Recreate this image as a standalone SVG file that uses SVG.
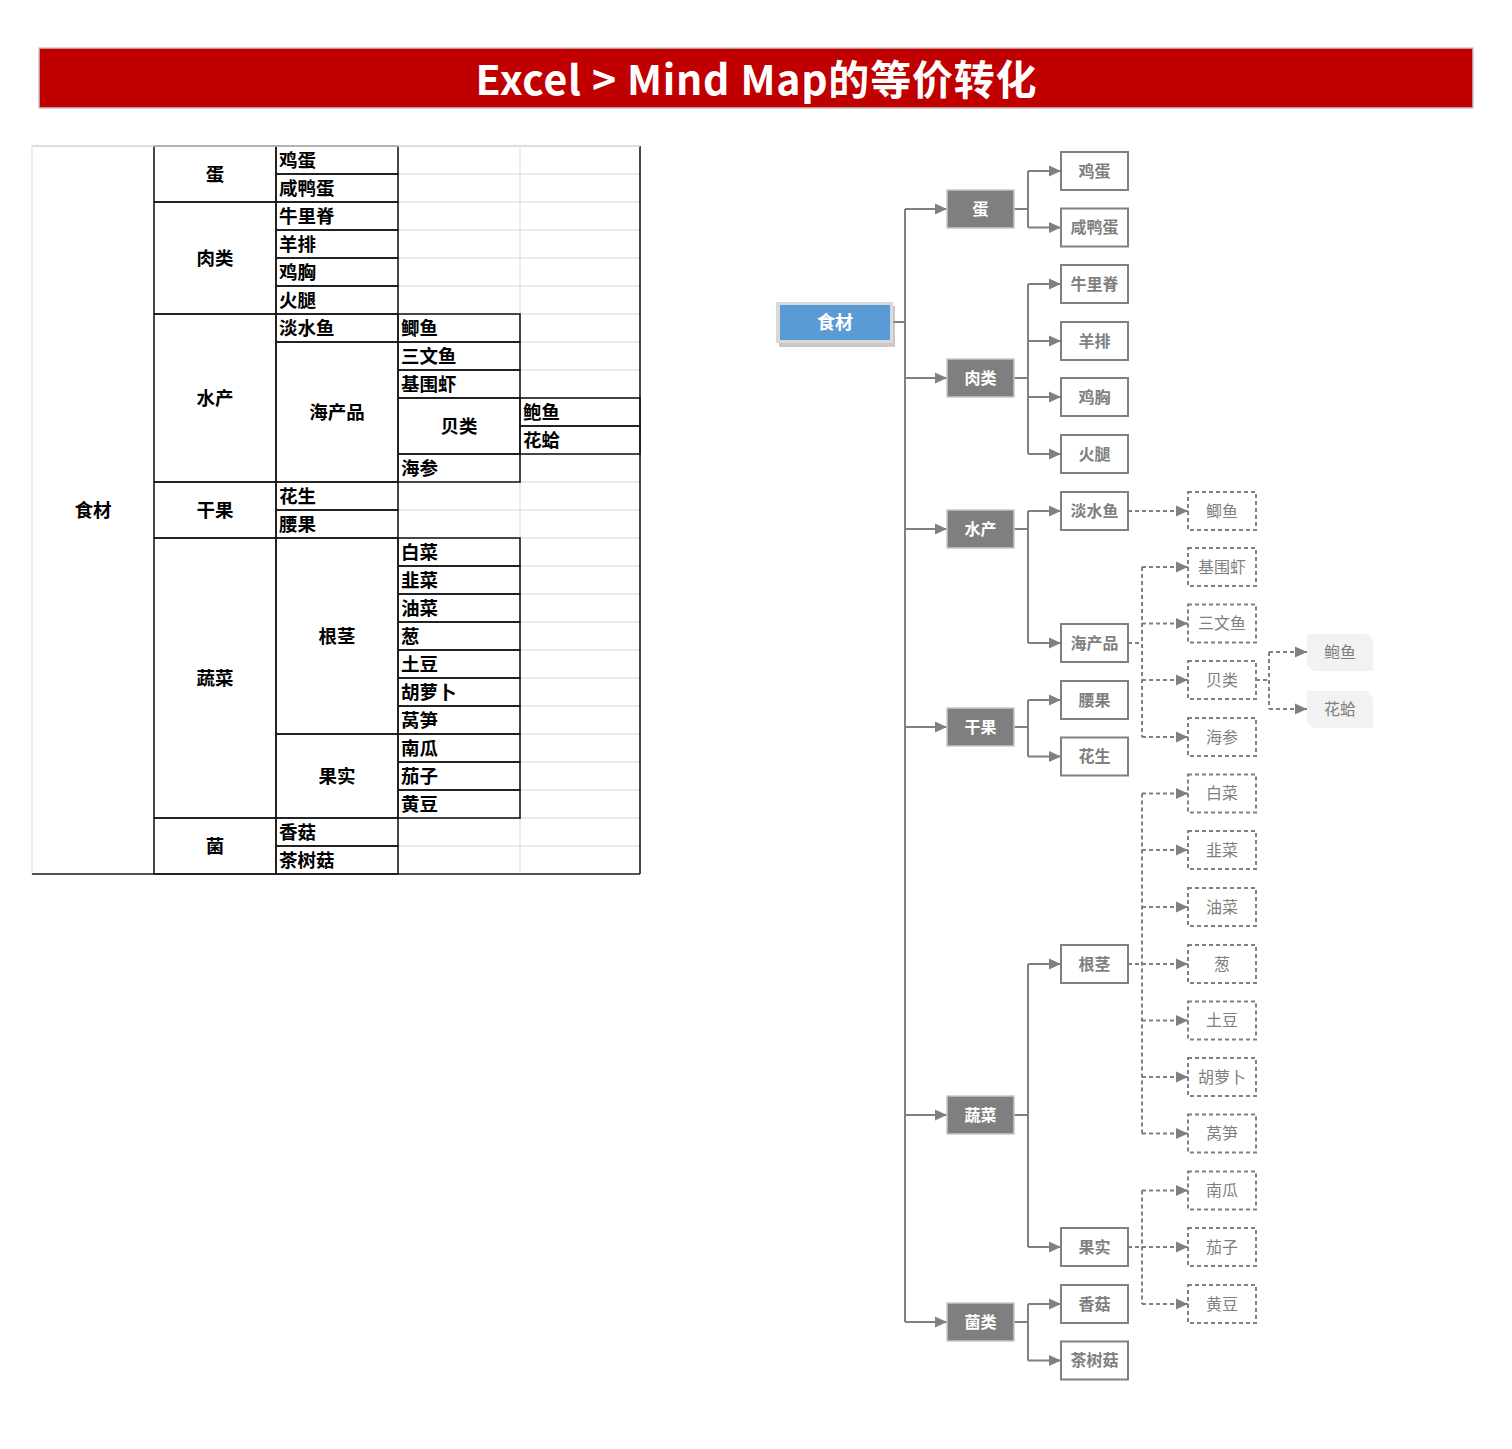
<svg xmlns="http://www.w3.org/2000/svg" width="1512" height="1449" viewBox="0 0 1512 1449">
<style>
.tt{font-family:"Noto Sans CJK SC","Liberation Sans",sans-serif;font-weight:bold;font-size:18.5px;fill:#000}
.tc{text-anchor:middle}
.cell{fill:none;stroke:#1a1a1a;stroke-width:1.6}
.grid{stroke:#d9d9d9;stroke-width:1;fill:none}
.l1 rect{fill:#7f7f7f;stroke:#c8c8c8;stroke-width:1.5}
.l1 text{font-family:"Noto Sans CJK SC","Liberation Sans",sans-serif;font-weight:bold;font-size:16px;fill:#fff;text-anchor:middle}
.l2 rect{fill:#fff;stroke:#808080;stroke-width:2}
.l2 text{font-family:"Noto Sans CJK SC","Liberation Sans",sans-serif;font-weight:bold;font-size:16px;fill:#7f7f7f;text-anchor:middle}
.l3 rect{fill:#fff;stroke:#808080;stroke-width:2;stroke-dasharray:4 3}
.l3 text{font-family:"Noto Sans CJK SC","Liberation Sans",sans-serif;font-size:16px;fill:#7f7f7f;text-anchor:middle}
.l4 path{fill:#f2f2f2}
.l4 text{font-family:"Noto Sans CJK SC","Liberation Sans",sans-serif;font-size:16px;fill:#7f7f7f;text-anchor:middle}
.s{fill:none;stroke:#808080;stroke-width:2}
.d{fill:none;stroke:#808080;stroke-width:2;stroke-dasharray:4 3}
</style>
<defs>
<marker id="ar" markerUnits="userSpaceOnUse" markerWidth="13" markerHeight="13" viewBox="0 0 13 13" refX="12" refY="6.5" orient="auto">
<path d="M0,1 L12,6.5 L0,12 Z" fill="#808080"/>
</marker>
</defs>
<rect width="1512" height="1449" fill="#fff"/>

<g id="title">
<rect x="39" y="48" width="1434" height="60" fill="#c00000" stroke="#c8c8c8" stroke-width="1.5"/>
<text x="756" y="95" text-anchor="middle" font-family="Noto Sans CJK SC,Liberation Sans,sans-serif" font-weight="bold" font-size="41" fill="#fff" textLength="561" lengthAdjust="spacing">Excel &gt; Mind Map的等价转化</text>
</g>

<g id="table">
<path class="grid" d="M32,146 H640 M32,146 V874 M520,146 V874
M398,174 H640 M398,202 H640 M398,230 H640 M398,258 H640 M398,286 H640
M520,314 H640 M520,342 H640 M520,370 H640 M520,398 H640 M520,482 H640
M398,510 H640 M520,538 H640 M520,566 H640 M520,594 H640 M520,622 H640 M520,650 H640
M520,678 H640 M520,706 H640 M520,734 H640 M520,762 H640 M520,790 H640 M398,818 H640 M398,846 H640"/>
<g class="cells">
<path class="cell" d="M32,874 H640 M640,146 V874"/>
<rect class="cell" x="154" y="146" width="122" height="56"/>
<rect class="cell" x="154" y="202" width="122" height="112"/>
<rect class="cell" x="154" y="314" width="122" height="168"/>
<rect class="cell" x="154" y="482" width="122" height="56"/>
<rect class="cell" x="154" y="538" width="122" height="280"/>
<rect class="cell" x="154" y="818" width="122" height="56"/>
<rect class="cell" x="276" y="146" width="122" height="28"/>
<rect class="cell" x="276" y="174" width="122" height="28"/>
<rect class="cell" x="276" y="202" width="122" height="28"/>
<rect class="cell" x="276" y="230" width="122" height="28"/>
<rect class="cell" x="276" y="258" width="122" height="28"/>
<rect class="cell" x="276" y="286" width="122" height="28"/>
<rect class="cell" x="276" y="314" width="122" height="28"/>
<rect class="cell" x="276" y="342" width="122" height="140"/>
<rect class="cell" x="276" y="482" width="122" height="28"/>
<rect class="cell" x="276" y="510" width="122" height="28"/>
<rect class="cell" x="276" y="538" width="122" height="196"/>
<rect class="cell" x="276" y="734" width="122" height="84"/>
<rect class="cell" x="276" y="818" width="122" height="28"/>
<rect class="cell" x="276" y="846" width="122" height="28"/>
<rect class="cell" x="398" y="314" width="122" height="28"/>
<rect class="cell" x="398" y="342" width="122" height="28"/>
<rect class="cell" x="398" y="370" width="122" height="28"/>
<rect class="cell" x="398" y="398" width="122" height="56"/>
<rect class="cell" x="398" y="454" width="122" height="28"/>
<rect class="cell" x="398" y="538" width="122" height="28"/>
<rect class="cell" x="398" y="566" width="122" height="28"/>
<rect class="cell" x="398" y="594" width="122" height="28"/>
<rect class="cell" x="398" y="622" width="122" height="28"/>
<rect class="cell" x="398" y="650" width="122" height="28"/>
<rect class="cell" x="398" y="678" width="122" height="28"/>
<rect class="cell" x="398" y="706" width="122" height="28"/>
<rect class="cell" x="398" y="734" width="122" height="28"/>
<rect class="cell" x="398" y="762" width="122" height="28"/>
<rect class="cell" x="398" y="790" width="122" height="28"/>
<rect class="cell" x="520" y="398" width="120" height="28"/>
<rect class="cell" x="520" y="426" width="120" height="28"/>
</g>
<line x1="32" y1="146" x2="640" y2="146" stroke="#d9d9d9" stroke-width="1.6"/>
<g class="tt">
<text class="tc" x="93" y="516.5">食材</text>
<text class="tc" x="215" y="180.5">蛋</text>
<text class="tc" x="215" y="264.5">肉类</text>
<text class="tc" x="215" y="404.5">水产</text>
<text class="tc" x="215" y="516.5">干果</text>
<text class="tc" x="215" y="684.5">蔬菜</text>
<text class="tc" x="215" y="852.5">菌</text>
<text x="279" y="166.5">鸡蛋</text>
<text x="279" y="194.5">咸鸭蛋</text>
<text x="279" y="222.5">牛里脊</text>
<text x="279" y="250.5">羊排</text>
<text x="279" y="278.5">鸡胸</text>
<text x="279" y="306.5">火腿</text>
<text x="279" y="334.5">淡水鱼</text>
<text class="tc" x="337" y="418.5">海产品</text>
<text x="279" y="502.5">花生</text>
<text x="279" y="530.5">腰果</text>
<text class="tc" x="337" y="642.5">根茎</text>
<text class="tc" x="337" y="782.5">果实</text>
<text x="279" y="838.5">香菇</text>
<text x="279" y="866.5">茶树菇</text>
<text x="401" y="334.5">鲫鱼</text>
<text x="401" y="362.5">三文鱼</text>
<text x="401" y="390.5">基围虾</text>
<text class="tc" x="459" y="432.5">贝类</text>
<text x="401" y="474.5">海参</text>
<text x="401" y="558.5">白菜</text>
<text x="401" y="586.5">韭菜</text>
<text x="401" y="614.5">油菜</text>
<text x="401" y="642.5">葱</text>
<text x="401" y="670.5">土豆</text>
<text x="401" y="698.5">胡萝卜</text>
<text x="401" y="726.5">莴笋</text>
<text x="401" y="754.5">南瓜</text>
<text x="401" y="782.5">茄子</text>
<text x="401" y="810.5">黄豆</text>
<text x="523" y="418.5">鲍鱼</text>
<text x="523" y="446.5">花蛤</text>
</g>
</g>

<g id="connectors">
<path class="s" d="M893,322 H905 M905,209 V1322"/>
<path class="s" marker-end="url(#ar)" d="M905,209 H947"/>
<path class="s" marker-end="url(#ar)" d="M905,378 H947"/>
<path class="s" marker-end="url(#ar)" d="M905,529 H947"/>
<path class="s" marker-end="url(#ar)" d="M905,727 H947"/>
<path class="s" marker-end="url(#ar)" d="M905,1115 H947"/>
<path class="s" marker-end="url(#ar)" d="M905,1322 H947"/>
<path class="s" d="M1014,209 H1028 M1028,171 V227.5"/>
<path class="s" marker-end="url(#ar)" d="M1028,171 H1061"/>
<path class="s" marker-end="url(#ar)" d="M1028,227.5 H1061"/>
<path class="s" d="M1014,378 H1028 M1028,284 V454"/>
<path class="s" marker-end="url(#ar)" d="M1028,284 H1061"/>
<path class="s" marker-end="url(#ar)" d="M1028,341 H1061"/>
<path class="s" marker-end="url(#ar)" d="M1028,397 H1061"/>
<path class="s" marker-end="url(#ar)" d="M1028,454 H1061"/>
<path class="s" d="M1014,529 H1028 M1028,511 V643"/>
<path class="s" marker-end="url(#ar)" d="M1028,511 H1061"/>
<path class="s" marker-end="url(#ar)" d="M1028,643 H1061"/>
<path class="s" d="M1014,727 H1028 M1028,700 V756.5"/>
<path class="s" marker-end="url(#ar)" d="M1028,700 H1061"/>
<path class="s" marker-end="url(#ar)" d="M1028,756.5 H1061"/>
<path class="s" d="M1014,1115 H1028 M1028,964 V1247"/>
<path class="s" marker-end="url(#ar)" d="M1028,964 H1061"/>
<path class="s" marker-end="url(#ar)" d="M1028,1247 H1061"/>
<path class="s" d="M1014,1322 H1028 M1028,1304 V1360.5"/>
<path class="s" marker-end="url(#ar)" d="M1028,1304 H1061"/>
<path class="s" marker-end="url(#ar)" d="M1028,1360.5 H1061"/>
<path class="d" marker-end="url(#ar)" d="M1128,511 H1188"/>
<path class="d" d="M1128,643 H1142 M1142,567 V737"/>
<path class="d" marker-end="url(#ar)" d="M1142,567 H1188"/>
<path class="d" marker-end="url(#ar)" d="M1142,623.5 H1188"/>
<path class="d" marker-end="url(#ar)" d="M1142,680 H1188"/>
<path class="d" marker-end="url(#ar)" d="M1142,737 H1188"/>
<path class="d" d="M1128,964 H1142 M1142,793.5 V1133.5"/>
<path class="d" marker-end="url(#ar)" d="M1142,793.5 H1188"/>
<path class="d" marker-end="url(#ar)" d="M1142,850 H1188"/>
<path class="d" marker-end="url(#ar)" d="M1142,907 H1188"/>
<path class="d" marker-end="url(#ar)" d="M1142,964 H1188"/>
<path class="d" marker-end="url(#ar)" d="M1142,1020.5 H1188"/>
<path class="d" marker-end="url(#ar)" d="M1142,1077 H1188"/>
<path class="d" marker-end="url(#ar)" d="M1142,1133.5 H1188"/>
<path class="d" d="M1128,1247 H1142 M1142,1190.5 V1304"/>
<path class="d" marker-end="url(#ar)" d="M1142,1190.5 H1188"/>
<path class="d" marker-end="url(#ar)" d="M1142,1247 H1188"/>
<path class="d" marker-end="url(#ar)" d="M1142,1304 H1188"/>
<path class="d" d="M1256,680 H1269 M1269,652 V709"/>
<path class="d" marker-end="url(#ar)" d="M1269,652 H1307"/>
<path class="d" marker-end="url(#ar)" d="M1269,709 H1307"/>
</g>

<g id="n-root">
<rect x="779" y="306" width="116" height="41" fill="#9a9a9a" opacity="0.55"/>
<rect x="776" y="302" width="117" height="41" fill="#d9d9d9"/>
<rect x="780" y="305" width="110" height="35" fill="#5b9bd5"/>
<text x="835" y="329" text-anchor="middle" font-family="Noto Sans CJK SC,Liberation Sans,sans-serif" font-weight="bold" font-size="18" fill="#fff">食材</text>
</g>

<g id="n-dan" class="l1"><rect x="947" y="190" width="67" height="38"/><text x="980.5" y="214.5">蛋</text></g>
<g id="n-roulei" class="l1"><rect x="947" y="359" width="67" height="38"/><text x="980.5" y="383.5">肉类</text></g>
<g id="n-shuichan" class="l1"><rect x="947" y="510" width="67" height="38"/><text x="980.5" y="534.5">水产</text></g>
<g id="n-ganguo" class="l1"><rect x="947" y="708" width="67" height="38"/><text x="980.5" y="732.5">干果</text></g>
<g id="n-shucai" class="l1"><rect x="947" y="1096" width="67" height="38"/><text x="980.5" y="1120.5">蔬菜</text></g>
<g id="n-junlei" class="l1"><rect x="947" y="1303" width="67" height="38"/><text x="980.5" y="1327.5">菌类</text></g>

<g id="n-jidan" class="l2"><rect x="1061" y="152" width="67" height="38"/><text x="1094.5" y="176.5">鸡蛋</text></g>
<g id="n-xianyadan" class="l2"><rect x="1061" y="208.5" width="67" height="38"/><text x="1094.5" y="233">咸鸭蛋</text></g>
<g id="n-niuliji" class="l2"><rect x="1061" y="265" width="67" height="38"/><text x="1094.5" y="289.5">牛里脊</text></g>
<g id="n-yangpai" class="l2"><rect x="1061" y="322" width="67" height="38"/><text x="1094.5" y="346.5">羊排</text></g>
<g id="n-jixiong" class="l2"><rect x="1061" y="378" width="67" height="38"/><text x="1094.5" y="402.5">鸡胸</text></g>
<g id="n-huotui" class="l2"><rect x="1061" y="435" width="67" height="38"/><text x="1094.5" y="459.5">火腿</text></g>
<g id="n-danshuiyu" class="l2"><rect x="1061" y="492" width="67" height="38"/><text x="1094.5" y="516.5">淡水鱼</text></g>
<g id="n-haichanpin" class="l2"><rect x="1061" y="624" width="67" height="38"/><text x="1094.5" y="648.5">海产品</text></g>
<g id="n-yaoguo" class="l2"><rect x="1061" y="681" width="67" height="38"/><text x="1094.5" y="705.5">腰果</text></g>
<g id="n-huasheng" class="l2"><rect x="1061" y="737.5" width="67" height="38"/><text x="1094.5" y="762">花生</text></g>
<g id="n-genjing" class="l2"><rect x="1061" y="945" width="67" height="38"/><text x="1094.5" y="969.5">根茎</text></g>
<g id="n-guoshi" class="l2"><rect x="1061" y="1228" width="67" height="38"/><text x="1094.5" y="1252.5">果实</text></g>
<g id="n-xianggu" class="l2"><rect x="1061" y="1285" width="67" height="38"/><text x="1094.5" y="1309.5">香菇</text></g>
<g id="n-chashugu" class="l2"><rect x="1061" y="1341.5" width="67" height="38"/><text x="1094.5" y="1366">茶树菇</text></g>

<g id="n-jiyu" class="l3"><rect x="1188" y="492" width="68" height="38"/><text x="1222" y="516.5">鲫鱼</text></g>
<g id="n-jiweixia" class="l3"><rect x="1188" y="548" width="68" height="38"/><text x="1222" y="572.5">基围虾</text></g>
<g id="n-sanwenyu" class="l3"><rect x="1188" y="604.5" width="68" height="38"/><text x="1222" y="629">三文鱼</text></g>
<g id="n-beilei" class="l3"><rect x="1188" y="661" width="68" height="38"/><text x="1222" y="685.5">贝类</text></g>
<g id="n-haishen" class="l3"><rect x="1188" y="718" width="68" height="38"/><text x="1222" y="742.5">海参</text></g>
<g id="n-baicai" class="l3"><rect x="1188" y="774.5" width="68" height="38"/><text x="1222" y="799">白菜</text></g>
<g id="n-jiucai" class="l3"><rect x="1188" y="831" width="68" height="38"/><text x="1222" y="855.5">韭菜</text></g>
<g id="n-youcai" class="l3"><rect x="1188" y="888" width="68" height="38"/><text x="1222" y="912.5">油菜</text></g>
<g id="n-cong" class="l3"><rect x="1188" y="945" width="68" height="38"/><text x="1222" y="969.5">葱</text></g>
<g id="n-tudou" class="l3"><rect x="1188" y="1001.5" width="68" height="38"/><text x="1222" y="1026">土豆</text></g>
<g id="n-huluobo" class="l3"><rect x="1188" y="1058" width="68" height="38"/><text x="1222" y="1082.5">胡萝卜</text></g>
<g id="n-wosun" class="l3"><rect x="1188" y="1114.5" width="68" height="38"/><text x="1222" y="1139">莴笋</text></g>
<g id="n-nangua" class="l3"><rect x="1188" y="1171.5" width="68" height="38"/><text x="1222" y="1196">南瓜</text></g>
<g id="n-qiezi" class="l3"><rect x="1188" y="1228" width="68" height="38"/><text x="1222" y="1252.5">茄子</text></g>
<g id="n-huangdou" class="l3"><rect x="1188" y="1285" width="68" height="38"/><text x="1222" y="1309.5">黄豆</text></g>

<g id="n-baoyu" class="l4"><path d="M1307,634 H1367 L1373,640 V671 H1313 L1307,665 Z"/><text x="1340" y="657.5">鲍鱼</text></g>
<g id="n-huage" class="l4"><path d="M1307,691 H1367 L1373,697 V728 H1313 L1307,722 Z"/><text x="1340" y="714.5">花蛤</text></g>
</svg>
